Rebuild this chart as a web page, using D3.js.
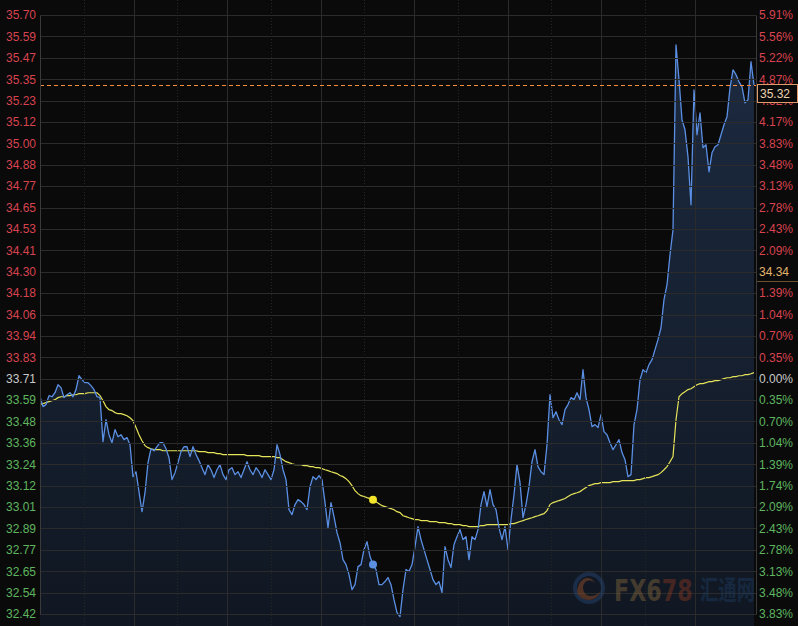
<!DOCTYPE html>
<html><head><meta charset="utf-8">
<script src="https://cdn.jsdelivr.net/npm/d3@7"></script>
<style>html,body{margin:0;padding:0;background:#0a0a0a;overflow:hidden}</style>
</head><body><svg id="c" width="798" height="626"></svg>
<script>
// ---------------- data ----------------
const basePrice = 33.71;      // previous close (0.00%)
const tickStep = 0.11725;     // price step between axis ticks
const leftLabels = ["35.70","35.59","35.47","35.35","35.23","35.12","35.00","34.88","34.77","34.65","34.53","34.41","34.30","34.18","34.06","33.94","33.83","33.71","33.59","33.48","33.36","33.24","33.12","33.01","32.89","32.77","32.65","32.54","32.42"];
const rightLabels = ["5.91%","5.56%","5.22%","4.87%","4.52%","4.17%","3.83%","3.48%","3.13%","2.78%","2.43%","2.09%","1.74%","1.39%","1.04%","0.70%","0.35%","0.00%","0.35%","0.70%","1.04%","1.39%","1.74%","2.09%","2.43%","2.78%","3.13%","3.48%","3.83%"];
const prices = [
33.611,33.557,33.568,33.617,33.611,33.633,33.677,33.661,33.606,33.622,
33.633,33.611,33.650,33.726,33.705,33.688,33.688,33.672,33.650,33.611,
33.606,33.365,33.485,33.403,33.359,33.431,33.392,33.403,33.376,33.387,
33.348,33.173,33.200,33.091,32.981,33.085,33.250,33.326,33.315,33.337,
33.359,33.359,33.326,33.277,33.157,33.195,33.250,33.310,33.337,33.337,
33.283,33.337,33.294,33.261,33.222,33.184,33.239,33.211,33.168,33.211,
33.239,33.184,33.157,33.211,33.222,33.184,33.200,33.168,33.211,33.255,
33.211,33.184,33.222,33.200,33.168,33.211,33.184,33.157,33.211,33.348,
33.294,33.211,33.157,32.992,32.965,33.020,33.047,33.036,33.020,32.992,
33.118,33.173,33.157,33.179,33.157,33.031,32.894,33.031,32.954,32.866,
32.811,32.718,32.691,32.636,32.554,32.581,32.680,32.691,32.773,32.817,
32.735,32.691,32.664,32.581,32.581,32.598,32.620,32.581,32.499,32.428,
32.406,32.554,32.664,32.653,32.691,32.790,32.899,32.828,32.773,32.718,
32.664,32.609,32.581,32.598,32.538,32.790,32.718,32.675,32.801,32.844,
32.883,32.828,32.844,32.718,32.844,32.828,32.883,33.020,33.091,33.009,
33.102,33.020,32.992,32.894,32.828,32.899,32.773,32.938,33.074,33.239,
33.140,32.948,33.020,33.118,33.255,33.321,33.228,33.200,33.184,33.348,
33.622,33.496,33.529,33.485,33.458,33.540,33.568,33.606,33.595,33.633,
33.595,33.759,33.606,33.540,33.447,33.458,33.442,33.513,33.420,33.403,
33.359,33.321,33.348,33.376,33.305,33.266,33.173,33.184,33.458,33.540,
33.705,33.759,33.743,33.787,33.814,33.869,33.924,33.989,34.143,34.225,
34.389,34.526,35.540,35.348,35.129,35.074,34.926,34.663,35.293,35.047,
35.167,34.976,34.992,34.844,34.948,34.981,34.992,35.047,35.102,35.146,
35.304,35.403,35.376,35.337,35.310,35.222,35.239,35.447,35.320];
const avgPrices = [
33.568,33.573,33.579,33.584,33.589,33.595,33.606,33.611,33.611,33.617,
33.617,33.622,33.622,33.628,33.628,33.628,33.633,33.633,33.633,33.633,
33.617,33.589,33.557,33.540,33.535,33.524,33.518,33.518,33.513,33.507,
33.496,33.480,33.442,33.403,33.370,33.343,33.332,33.326,33.321,33.321,
33.321,33.315,33.315,33.315,33.315,33.315,33.315,33.315,33.315,33.315,
33.315,33.315,33.315,33.310,33.310,33.310,33.305,33.305,33.305,33.299,
33.299,33.294,33.294,33.294,33.294,33.294,33.294,33.294,33.294,33.288,
33.288,33.288,33.288,33.288,33.283,33.283,33.283,33.283,33.283,33.277,
33.277,33.266,33.255,33.250,33.244,33.239,33.239,33.239,33.233,33.233,
33.228,33.228,33.222,33.222,33.217,33.211,33.206,33.200,33.195,33.190,
33.179,33.173,33.162,33.146,33.124,33.096,33.080,33.069,33.064,33.058,
33.053,33.047,33.036,33.025,33.014,33.009,33.003,32.998,32.992,32.981,
32.976,32.959,32.954,32.948,32.943,32.938,32.938,32.932,32.932,32.932,
32.927,32.927,32.927,32.921,32.921,32.921,32.916,32.916,32.910,32.910,
32.910,32.905,32.905,32.899,32.899,32.899,32.899,32.905,32.905,32.910,
32.910,32.910,32.910,32.910,32.910,32.910,32.910,32.916,32.916,32.921,
32.927,32.932,32.938,32.943,32.948,32.954,32.959,32.965,32.970,32.987,
33.020,33.031,33.036,33.042,33.047,33.053,33.064,33.074,33.080,33.085,
33.091,33.102,33.113,33.124,33.129,33.135,33.135,33.140,33.140,33.140,
33.140,33.146,33.146,33.146,33.151,33.151,33.151,33.151,33.151,33.157,
33.157,33.162,33.168,33.168,33.173,33.179,33.184,33.195,33.211,33.228,
33.255,33.283,33.485,33.611,33.628,33.639,33.650,33.655,33.666,33.677,
33.683,33.683,33.688,33.694,33.694,33.699,33.699,33.705,33.710,33.715,
33.715,33.721,33.721,33.726,33.726,33.732,33.732,33.737,33.743];
const lastPriceLabel = "35.32";
const lastPrice = 35.32;
const markLabel = "34.34";
const markTickIndex = 12;
const hoverIndex = 111;

// ---------------- layout ----------------
const W = 798, H = 626;
const L = 40, R = 756;
const svg = d3.select("#c");
const font = "'Liberation Sans', Arial, sans-serif";

const x = d3.scaleLinear().domain([0, prices.length - 1]).range([L, 754]);
const y = d3.scaleLinear()
  .domain([basePrice - 11 * tickStep, basePrice + 17 * tickStep])
  .range([614, 15]);
const tickVals = leftLabels.map((d, i) => basePrice + (17 - i) * tickStep);
const labelColor = i => i < 17 ? "#d8434f" : (i === 17 ? "#c9c9c9" : "#5fb560");

svg.append("rect").attr("width", W).attr("height", H).attr("fill", "#0a0a0a");

const defs = svg.append("defs");
const grad = defs.append("linearGradient").attr("id", "ag")
  .attr("gradientUnits", "userSpaceOnUse").attr("x1", 0).attr("y1", 40).attr("x2", 0).attr("y2", H);
grad.append("stop").attr("offset", 0).attr("stop-color", "#1c2a40");
grad.append("stop").attr("offset", 1).attr("stop-color", "#101722");
defs.append("clipPath").attr("id", "pc").append("rect")
  .attr("x", L).attr("y", 0).attr("width", R - L).attr("height", H);

// area under price line
const plot = svg.append("g").attr("clip-path", "url(#pc)");
plot.append("path").datum(prices)
  .attr("fill", "url(#ag)")
  .attr("d", d3.area().x((d, i) => x(i)).y0(H).y1(d => y(d)));

// grid
const grid = svg.append("g");
grid.selectAll("line.h").data(tickVals).join("line")
  .attr("x1", L).attr("x2", R).attr("y1", d => Math.round(y(d)) + 0.5).attr("y2", d => Math.round(y(d)) + 0.5)
  .attr("stroke", "#2b2b2b").attr("stroke-width", 1);
const vStep = 31.17; // index units between vertical grid lines
const solidIdx = d3.range(1, 8).map(k => k * vStep);
const dotIdx = d3.range(0, 7).map(k => (k + 0.47) * vStep);
grid.selectAll("line.vs").data(solidIdx).join("line")
  .attr("x1", d => Math.round(x(d)) + 0.5).attr("x2", d => Math.round(x(d)) + 0.5)
  .attr("y1", 0).attr("y2", H).attr("stroke", "#2b2b2b");
grid.selectAll("line.vd").data(dotIdx).enter().append("line")
  .attr("x1", d => Math.round(x(d)) + 0.5).attr("x2", d => Math.round(x(d)) + 0.5)
  .attr("y1", 0).attr("y2", H).attr("stroke", "#262626").attr("stroke-dasharray", "1,2");

// watermark (behind lines)
const wm = svg.append("g").attr("opacity", 0.42);
wm.append("circle").attr("cx", 589).attr("cy", 588).attr("r", 14).attr("fill", "none").attr("stroke", "#2a4a7a").attr("stroke-width", 4);
wm.append("path").attr("d", "M577,592 C580,602 596,603 600,592 C594,598 584,598 583,588 C583,580 592,578 595,584 C592,574 578,576 577,592 Z").attr("fill", "#a8552a");
wm.append("text").attr("transform", "translate(614,601) scale(0.74,1)")
  .style("font-family", "'DejaVu Sans','Liberation Sans',Arial").style("font-weight", "bold").style("font-size", "30px")
  .selectAll("tspan").data([["FX6", "#8a6d3c"], ["78", "#8f3a22"]]).join("tspan").attr("fill", d => d[1]).text(d => d[0]);
wm.append("text").attr("transform", "translate(700,600) scale(0.68,1)")
  .attr("fill", "#1f3f66").style("font-family", "'Noto Sans CJK SC'").style("font-weight", "bold").style("font-size", "27px").text("汇通网");

// lines
plot.append("path").datum(avgPrices)
  .attr("fill", "none").attr("stroke", "#e6e45a").attr("stroke-width", 1.2)
  .attr("d", d3.line().x((d, i) => x(i)).y(d => y(d)));
plot.append("path").datum(prices)
  .attr("fill", "none").attr("stroke", "#5b8fe3").attr("stroke-width", 1.3)
  .attr("stroke-linejoin", "round")
  .attr("d", d3.line().x((d, i) => x(i)).y(d => y(d)));

// last price dashed line
svg.append("line").attr("x1", L).attr("x2", R)
  .attr("y1", Math.round(y(lastPrice)) + 0.5).attr("y2", Math.round(y(lastPrice)) + 0.5)
  .attr("stroke", "#ff8c3a").attr("stroke-dasharray", "4,3").attr("stroke-width", 1);

// hover markers
svg.append("circle").attr("cx", x(hoverIndex)).attr("cy", y(avgPrices[hoverIndex])).attr("r", 4).attr("fill", "#f2e52a");
svg.append("circle").attr("cx", x(hoverIndex)).attr("cy", y(prices[hoverIndex])).attr("r", 4).attr("fill", "#5b8fe3");

// axes
const la = svg.append("g").attr("transform", `translate(${L},0)`)
  .call(d3.axisLeft(y).tickValues(tickVals).tickFormat((d, i) => leftLabels[i]).tickSize(0).tickPadding(4));
la.select(".domain").attr("stroke", "#3a3a3a");
la.selectAll("text").attr("fill", (d, i) => labelColor(i)).style("font-family", font).style("font-size", "12px");

const ra = svg.append("g").attr("transform", `translate(${R},0)`)
  .call(d3.axisRight(y).tickValues(tickVals).tickFormat((d, i) => rightLabels[i]).tickSize(0).tickPadding(3));
ra.select(".domain").attr("stroke", "#3a3a3a");
ra.selectAll("text").attr("fill", (d, i) => labelColor(i)).style("font-family", font).style("font-size", "12px")
  .style("opacity", (d, i) => i === markTickIndex ? 0 : 1);

// marker label 34.34
const my = y(tickVals[markTickIndex]);
svg.append("text").attr("x", R + 3).attr("y", my).attr("dy", "0.35em")
  .attr("fill", "#e3b46e").style("font-family", font).style("font-size", "12px").text(markLabel);
svg.append("line").attr("x1", R + 1).attr("x2", W).attr("y1", Math.round(my) + 9.5).attr("y2", Math.round(my) + 9.5)
  .attr("stroke", "#6a5030");

// last price box
const ly = Math.round(y(lastPrice));
svg.append("rect").attr("x", R + 1.5).attr("y", ly - 0.5).attr("width", 40).attr("height", 18)
  .attr("fill", "#0a0a0a").attr("stroke", "#e39a6a").attr("stroke-width", 1);
svg.append("text").attr("x", R + 4).attr("y", ly + 9).attr("dy", "0.35em")
  .attr("fill", "#ecd2b0").style("font-family", font).style("font-size", "12px").text(lastPriceLabel);
</script></body></html>
